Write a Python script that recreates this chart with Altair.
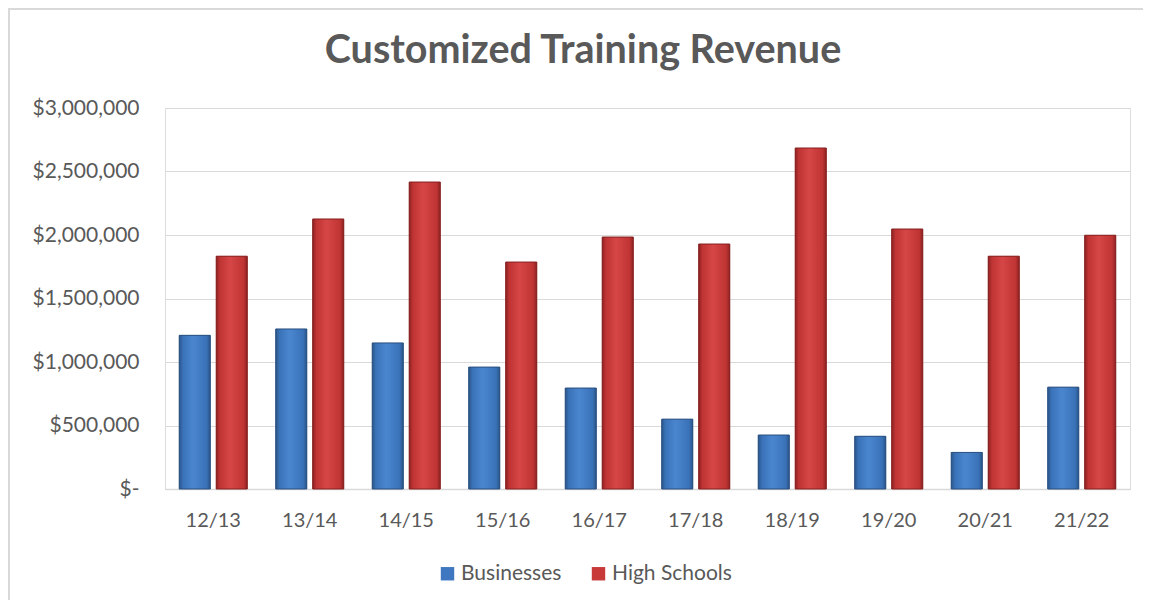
import altair as alt
import pandas as pd

years = ["12/13", "13/14", "14/15", "15/16", "16/17", "17/18", "18/19", "19/20", "20/21", "21/22"]
businesses = [1210000, 1260000, 1150000, 960000, 795000, 550000, 425000, 415000, 288000, 802000]
high_schools = [1833000, 2126000, 2417000, 1787000, 1984000, 1929000, 2685000, 2047000, 1833000, 1998000]
series = ["Businesses", "High Schools"]
colors = ["#3f78c0", "#c83a3a"]
title_text = "Customized Training Revenue"

rows = []
for y, b, h in zip(years, businesses, high_schools):
    rows.append({"Year": y, "Series": series[0], "Revenue": b})
    rows.append({"Year": y, "Series": series[1], "Revenue": h})
df = pd.DataFrame(rows)

FONT = "Lato"
TXT = "#595959"
W, H = 965, 381

x_enc = alt.X("Year:N", sort=years, title=None,
              scale=alt.Scale(paddingInner=0.295, paddingOuter=0.1475),
              axis=alt.Axis(labelAngle=0, labelFontSize=20, labelColor=TXT, labelFont=FONT,
                            labelPadding=21, ticks=False, domainColor="#d9d9d9", domainWidth=1.5,
                            grid=False))
xo_enc = alt.XOffset("Series:N", sort=series, scale=alt.Scale(paddingInner=0.16, paddingOuter=0))
y_enc = alt.Y("Revenue:Q", title=None,
              scale=alt.Scale(domain=[0, 3000000]),
              axis=alt.Axis(values=[0, 500000, 1000000, 1500000, 2000000, 2500000, 3000000],
                            labelExpr="datum.value == 0 ? '$-\u00a0\u00a0' : '$' + format(datum.value, ',')",
                            labelFontSize=21, labelColor=TXT, labelFont=FONT, labelPadding=26,
                            ticks=False, domain=False, gridColor="#d9d9d9", gridWidth=1.2))

base = alt.Chart(df).mark_bar().encode(
    x=x_enc, xOffset=xo_enc, y=y_enc,
    color=alt.Color("Series:N", sort=series,
                    scale=alt.Scale(domain=series, range=colors),
                    legend=alt.Legend(title=None, orient="none", direction="horizontal",
                                      legendX=272, legendY=455, labelFontSize=21,
                                      labelColor=TXT, labelFont=FONT, symbolType="square",
                                      symbolSize=180, symbolStrokeWidth=0, columnPadding=26,
                                      labelOffset=3))
)

def grad(dark, mid, light):
    return alt.Gradient(gradient="linear", x1=0, x2=1, y1=0, y2=0,
                        stops=[alt.GradientStop(offset=0, color=dark),
                               alt.GradientStop(offset=0.12, color=mid),
                               alt.GradientStop(offset=0.45, color=light),
                               alt.GradientStop(offset=0.88, color=mid),
                               alt.GradientStop(offset=1, color=dark)])

blue_bars = alt.Chart(df).transform_filter(alt.datum.Series == series[0]).mark_bar(
    color=grad("#2a5589", "#3a72b8", "#4a86cf"), stroke="#2a4f7f", strokeWidth=1
).encode(x=x_enc, xOffset=xo_enc, y=y_enc)

red_bars = alt.Chart(df).transform_filter(alt.datum.Series == series[1]).mark_bar(
    color=grad("#8e2222", "#c03434", "#d64646"), stroke="#852020", strokeWidth=1
).encode(x=x_enc, xOffset=xo_enc, y=y_enc)

one = pd.DataFrame({"a": [0]})
frame_left = alt.Chart(one).mark_rule(stroke="#d9d9d9", strokeWidth=2).encode(
    x=alt.value(-156), y=alt.value(-100), y2=alt.value(500))
frame_top = alt.Chart(one).mark_rule(stroke="#d9d9d9", strokeWidth=2).encode(
    x=alt.value(-157), x2=alt.value(990), y=alt.value(-99))

title = alt.Chart(pd.DataFrame({"t": [title_text]})).mark_text(
    font=FONT, fontSize=39.5, fontWeight="bold", color=TXT, align="center", baseline="alphabetic"
).encode(text="t:N", x=alt.value(418), y=alt.value(-45))

chart = alt.layer(frame_left, frame_top, title, base, blue_bars, red_bars).properties(
    width=W, height=H,
    autosize=alt.AutoSizeParams(type="none"),
    padding={"left": 157, "top": 100, "right": 13, "bottom": 111},
).configure_view(stroke=None).configure(background="white")

chart.save("out.html", embed_options={"renderer": "svg", "actions": False})
